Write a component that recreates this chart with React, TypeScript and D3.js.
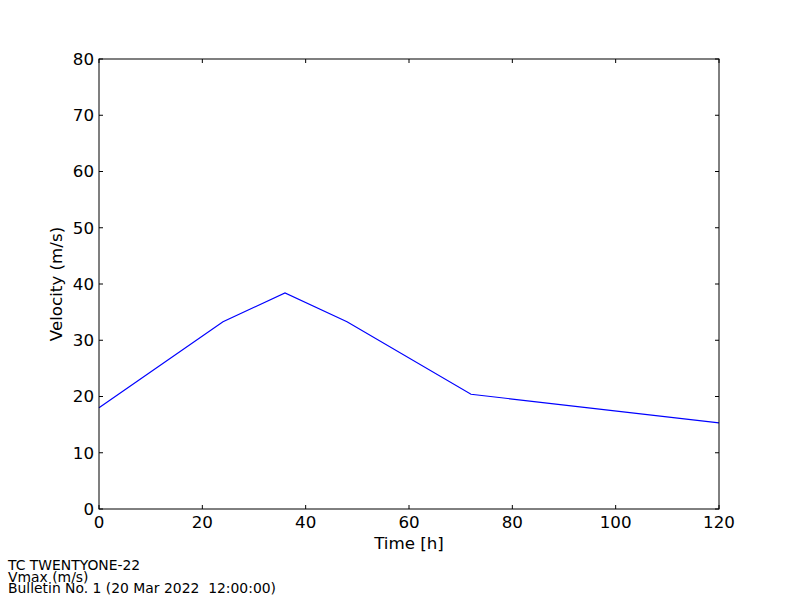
import React from "react";
import * as d3 from "d3";

const hours = [0, 24, 36, 48, 72, 120];
const vmax = [18.0, 33.3, 38.4, 33.3, 20.4, 15.3];
const xTicks = [0, 20, 40, 60, 80, 100, 120];
const yTicks = [0, 10, 20, 30, 40, 50, 60, 70, 80];
const footer = ["TC TWENTYONE-22", "Vmax (m/s)", "Bulletin No. 1 (20 Mar 2022  12:00:00)"];

export default function App() {
  const W = 800, H = 600;
  const left = 99, right = 719, top = 59, bottom = 509;
  const x = d3.scaleLinear().domain([0, 120]).range([left, right]);
  const y = d3.scaleLinear().domain([0, 80]).range([bottom, top]);
  const line = d3.line<number>().x((_, i) => x(hours[i])).y((d) => y(d));
  const font = "DejaVu Sans, sans-serif";
  const tl = 4;
  return (
    <svg width={W} height={H} style={{ position: "absolute", left: 0, top: 0, background: "#fff" }}>
      <rect x={0} y={0} width={W} height={H} fill="#fff" />
      <path d={line(vmax) || ""} fill="none" stroke="#0000ff" strokeWidth={1.2} />
      <rect x={left} y={top} width={right - left} height={bottom - top} fill="none" stroke="#000" strokeWidth={1} />
      {xTicks.map((t) => (
        <g key={"x" + t}>
          <line x1={x(t)} x2={x(t)} y1={bottom} y2={bottom - tl} stroke="#000" />
          <line x1={x(t)} x2={x(t)} y1={top} y2={top + tl} stroke="#000" />
          <text x={x(t)} y={bottom + 19} textAnchor="middle" fontFamily={font} fontSize={16.7}>{t}</text>
        </g>
      ))}
      {yTicks.map((t) => (
        <g key={"y" + t}>
          <line x1={left} x2={left + tl} y1={y(t)} y2={y(t)} stroke="#000" />
          <line x1={right} x2={right - tl} y1={y(t)} y2={y(t)} stroke="#000" />
          <text x={left - 5} y={y(t)} dy="0.35em" textAnchor="end" fontFamily={font} fontSize={16.7}>{t}</text>
        </g>
      ))}
      <text x={(left + right) / 2} y={549} textAnchor="middle" fontFamily={font} fontSize={16.7}>Time [h]</text>
      <text transform={`translate(62,${(top + bottom) / 2}) rotate(-90)`} textAnchor="middle" fontFamily={font} fontSize={16.7}>Velocity (m/s)</text>
      {footer.map((s, i) => (
        <text key={i} x={8} y={570 + i * 11.7} fontFamily={font} fontSize={13.9} style={{ whiteSpace: "pre" }}>{s}</text>
      ))}
    </svg>
  );
}
